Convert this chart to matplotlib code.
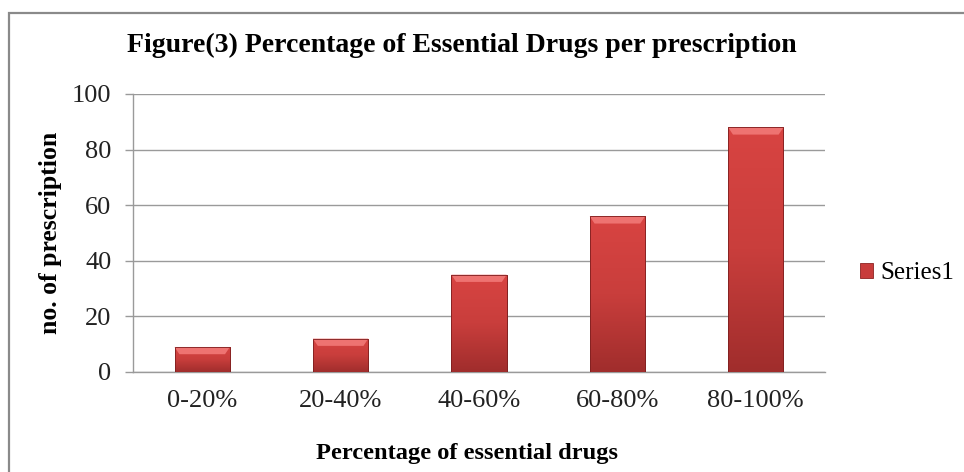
import numpy as np
import matplotlib
matplotlib.use("Agg")
import matplotlib.pyplot as plt
from matplotlib.patches import Rectangle, Polygon
from matplotlib.colors import LinearSegmentedColormap

categories = ["0-20%", "20-40%", "40-60%", "60-80%", "80-100%"]
prescriptions = [9, 12, 35, 56, 88]
series_name = "Series1"
y_ticks = [0, 20, 40, 60, 80, 100]

plt.rcParams["font.family"] = ["Liberation Serif", "DejaVu Serif"]

fig = plt.figure(figsize=(9.64, 4.72), dpi=100)
ax = fig.add_axes([133 / 964, 1 - 372 / 472, 692 / 964, 278 / 472])

x = np.arange(len(categories))
bar_w = 0.4
bars = ax.bar(x, prescriptions, width=bar_w, color="#c83c3b", edgecolor="#8e2222",
              linewidth=0.6, zorder=3)

# vertical shading inside each bar
shade = LinearSegmentedColormap.from_list("shade", ["#a02d2c", "#c93e3c", "#d84442"])
grad = np.linspace(0, 1, 256).reshape(-1, 1)
for b in bars:
    x0, w, h = b.get_x(), b.get_width(), b.get_height()
    im = ax.imshow(grad, cmap=shade, origin="lower", aspect="auto",
                   extent=(x0, x0 + w, 0, h), zorder=3.1)
    im.set_clip_path(b)
    # bevelled top edge
    bev_h = 2.6
    bev_dx = 0.035
    top = Polygon([(x0, h), (x0 + w, h), (x0 + w - bev_dx, h - bev_h), (x0 + bev_dx, h - bev_h)],
                  closed=True, facecolor="#ee7371", edgecolor="none", zorder=3.2)
    ax.add_patch(top)
    ax.add_patch(Rectangle((x0, 0), w, h, facecolor="none", edgecolor="#7e1f1f",
                           linewidth=0.6, zorder=3.3))

ax.set_xlim(-0.5, len(categories) - 0.5)
ax.set_ylim(0, 100)
ax.set_yticks(y_ticks)
ax.set_xticks(x)
ax.set_xticklabels(categories)
ax.tick_params(axis="x", length=0, labelsize=19, pad=13, labelcolor="#222222")
ax.tick_params(axis="y", length=6, width=1, color="#9a9a9a", labelsize=19, pad=9.5,
               labelcolor="#222222")
ax.yaxis.grid(True, color="#9a9a9a", linewidth=1, zorder=0)
ax.set_axisbelow(True)
for side in ("top", "right"):
    ax.spines[side].set_visible(False)
for side in ("left", "bottom"):
    ax.spines[side].set_color("#9a9a9a")
    ax.spines[side].set_linewidth(1)

ax.set_ylabel("no. of prescription", fontsize=18.5, fontweight="bold", ha="center", va="center")
ax.yaxis.set_label_coords(-0.1185, 0.5)
ax.set_xlabel("Percentage of essential drugs", fontsize=17.6, fontweight="bold", va="center")
ax.xaxis.set_label_coords(0.482, -0.293)
fig.text(462 / 964, 1 - 45 / 472, "Figure(3) Percentage of Essential Drugs per prescription",
         ha="center", va="center", fontsize=20, fontweight="bold")

handle = Rectangle((0, 0), 1, 1, facecolor="#c83c3b", edgecolor="#8e2222", linewidth=0.6)
fig.legend([handle], [series_name], loc="center left",
           bbox_to_anchor=(842 / 964, 1 - 273 / 472), frameon=False, fontsize=18,
           handlelength=0.55, handleheight=0.55, handletextpad=0.3, borderpad=0.2)

# outer chart frame
fig.add_artist(Rectangle((9 / 964, -0.05), 1.0, 1 - 13 / 472 + 0.05,
                         transform=fig.transFigure, facecolor="none",
                         edgecolor="#8a8a8a", linewidth=1.6))

fig.savefig("out.png", dpi=100)
